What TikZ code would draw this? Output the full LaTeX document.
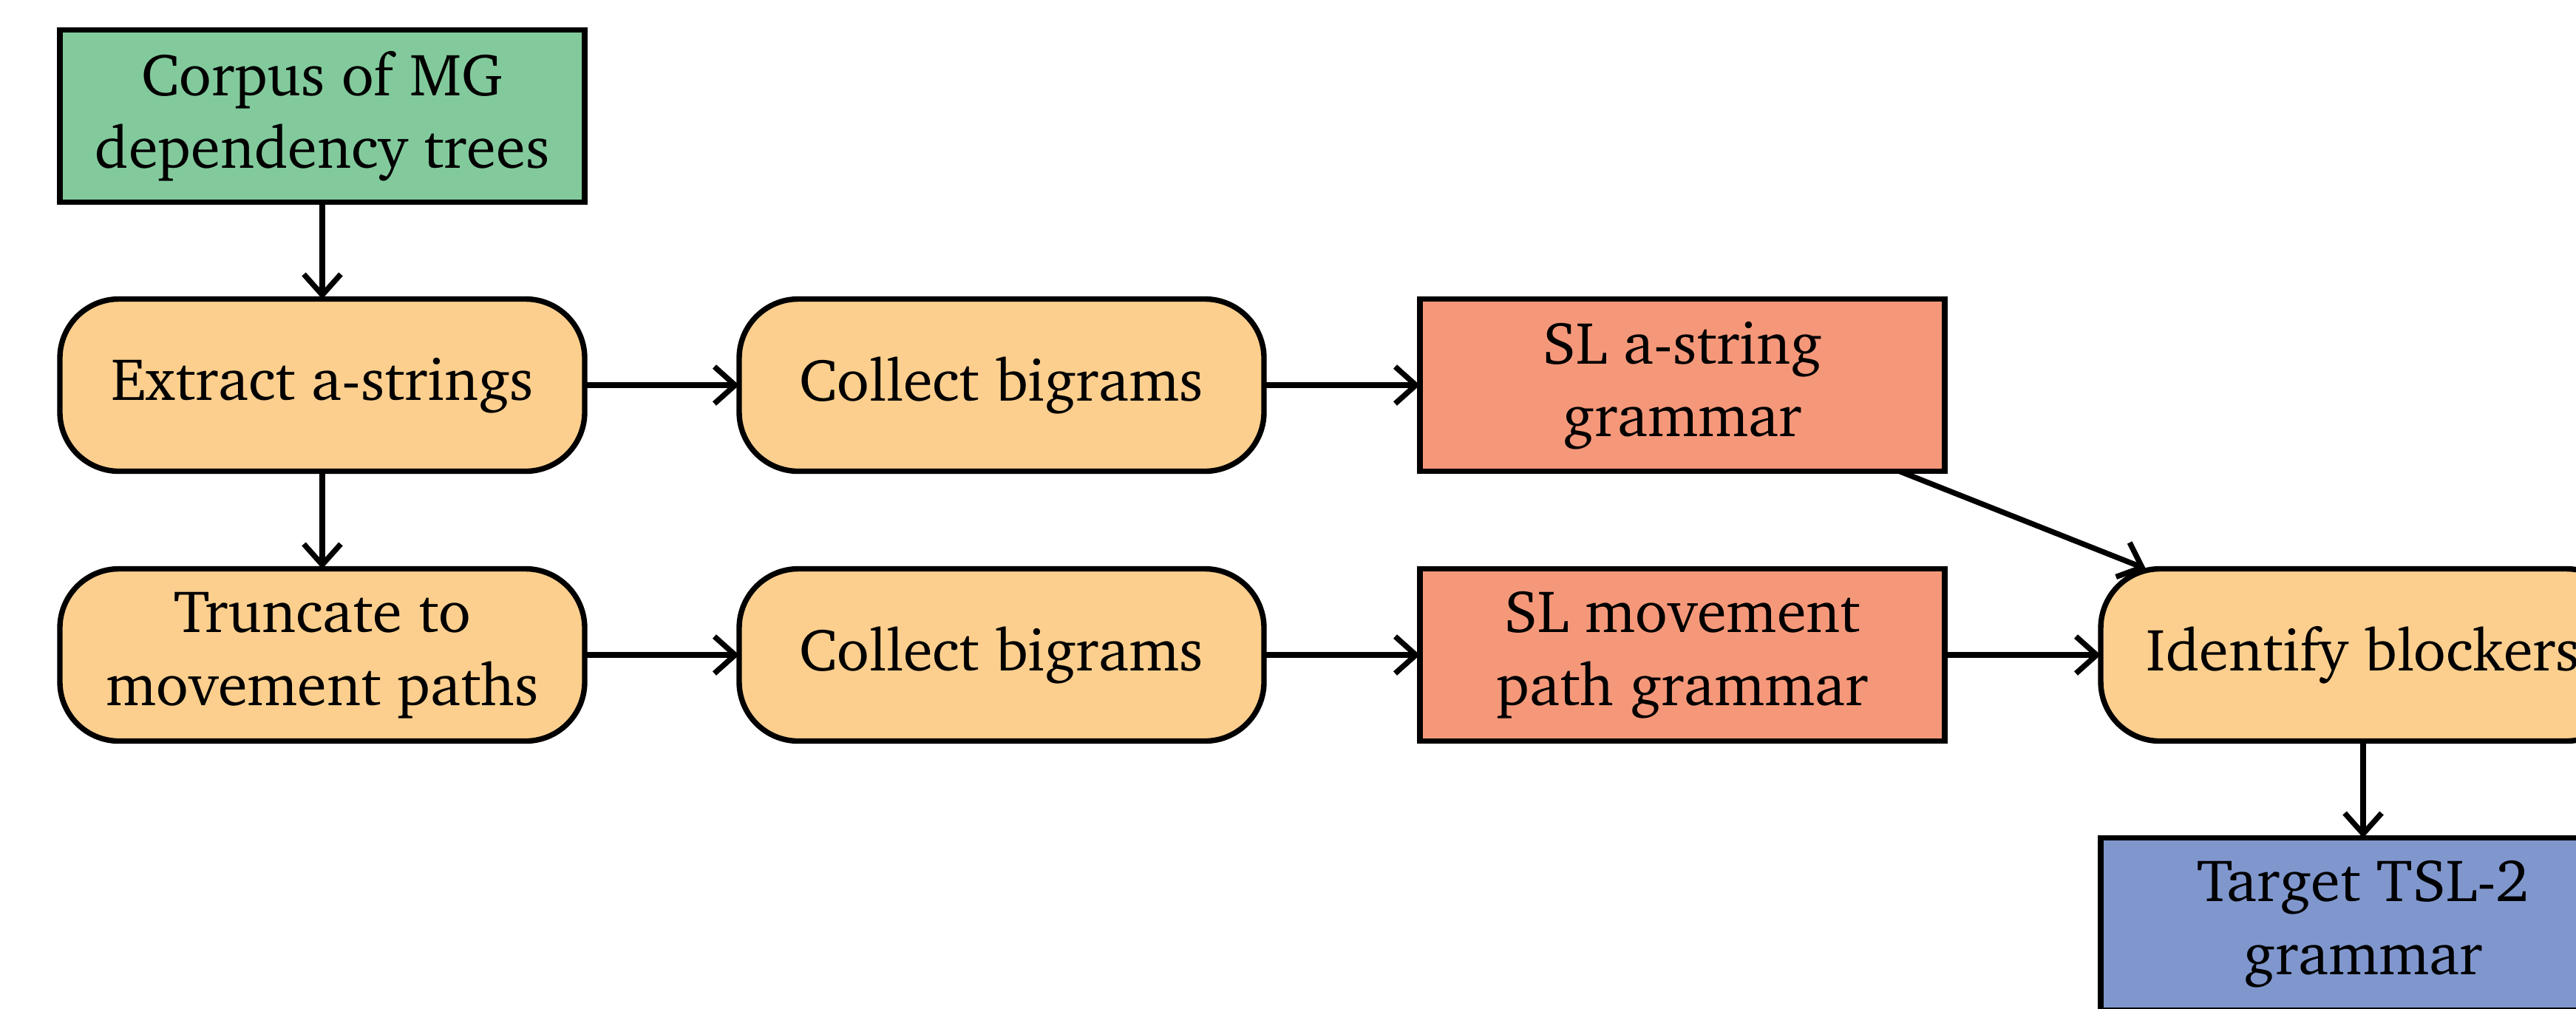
\documentclass[tikz,border=0pt]{standalone}
\usepackage[T1]{fontenc}
\usepackage{charter}
\usetikzlibrary{arrows.meta}
\definecolor{cgreen}{RGB}{130,202,156}
\definecolor{corange}{RGB}{252,207,142}
\definecolor{csalmon}{RGB}{245,152,122}
\definecolor{cblue}{RGB}{128,151,206}
\tikzset{
  box/.style={draw=black, line width=2.1pt, minimum width=7.1cm, minimum height=2.33cm,
    inner sep=0pt, outer sep=0pt, align=center,
    font=\fontsize{23}{28}\selectfont},
  procbox/.style={box, fill=corange, rounded corners=0.8cm},
  databox/.style={box, fill=cgreen},
  grambox/.style={box, fill=csalmon},
  targetbox/.style={box, fill=cblue},
  arr/.style={line width=2.1pt, -{Straight Barb[length=0.28cm,width=0.5cm,line width=2.1pt]}}
}
\begin{document}
\begin{tikzpicture}
\useasboundingbox (0,0) rectangle (34.85,-13.64);
\clip (0,0) rectangle (34.85,-13.64);
\node[databox] (corpus) at (4.36,-1.57) {Corpus of MG\\dependency trees};
\node[procbox] (extract) at (4.36,-5.21) {Extract a-strings};
\node[procbox] (trunc) at (4.36,-8.86) {Truncate to\\movement paths};
\node[procbox] (coll1) at (13.55,-5.21) {Collect bigrams};
\node[procbox] (coll2) at (13.55,-8.86) {Collect bigrams};
\node[grambox] (sl1) at (22.76,-5.21) {SL a-string\\grammar};
\node[grambox] (sl2) at (22.76,-8.86) {SL movement\\path grammar};
\node[procbox] (ident) at (31.97,-8.86) {Identify blockers};
\node[targetbox] (target) at (31.97,-12.50) {Target TSL-2\\grammar};
\draw[arr] (corpus) -- (extract);
\draw[arr] (extract) -- (trunc);
\draw[arr] (extract) -- (coll1);
\draw[arr] (coll1) -- (sl1);
\draw[arr] (trunc) -- (coll2);
\draw[arr] (coll2) -- (sl2);
\draw[arr] (sl2) -- (ident);
\draw[arr] (sl1) -- (ident);
\draw[arr] (ident) -- (target);
\end{tikzpicture}
\end{document}
